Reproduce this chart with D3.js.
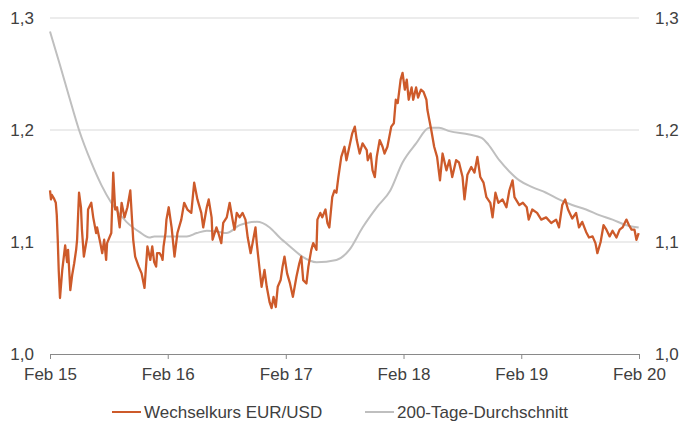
<!DOCTYPE html>
<html>
<head>
<meta charset="utf-8">
<script src="https://cdn.jsdelivr.net/npm/d3@7"></script>
<style>
  body { margin: 0; background: #fff; }
  text { font-family: "Liberation Sans", Arial, sans-serif; fill: #404040; }
</style>
</head>
<body>
<div id="chart"></div>
<script>
// EUR/USD rate
const rateDates = [
  "2015-02-01","2015-02-04","2015-02-07","2015-02-13","2015-02-19","2015-02-22","2015-02-25","2015-02-28","2015-03-04","2015-03-11","2015-03-20","2015-03-26","2015-03-29","2015-04-05","2015-04-11","2015-04-17","2015-04-23","2015-04-26","2015-05-02","2015-05-08","2015-05-11","2015-05-17","2015-05-27","2015-05-30","2015-06-09","2015-06-15","2015-06-24","2015-06-27","2015-07-07","2015-07-13","2015-07-19","2015-07-25","2015-07-28","2015-08-10","2015-08-16","2015-08-22","2015-08-28","2015-09-05","2015-09-11","2015-09-20","2015-09-29","2015-10-08","2015-10-11","2015-10-17","2015-10-23","2015-11-03","2015-11-12","2015-11-21","2015-11-30","2015-12-09","2015-12-15","2015-12-21","2015-12-27","2015-12-30",
  "2016-01-07","2016-01-13","2016-01-16","2016-01-19","2016-01-25","2016-01-28","2016-02-04","2016-02-13","2016-02-22","2016-03-02","2016-03-14","2016-03-23","2016-04-02","2016-04-14","2016-04-23","2016-05-03","2016-05-15","2016-05-21","2016-06-01","2016-06-07","2016-06-16","2016-06-19","2016-07-01","2016-07-07","2016-07-16","2016-07-22","2016-08-02","2016-08-11","2016-08-20","2016-08-26","2016-09-02","2016-09-11","2016-09-20","2016-09-29","2016-10-06","2016-10-15","2016-10-21","2016-10-30","2016-11-03","2016-11-12","2016-11-18","2016-11-27","2016-12-04","2016-12-13","2016-12-19","2016-12-25",
  "2017-01-01","2017-01-07","2017-01-16","2017-01-22","2017-01-28","2017-02-05","2017-02-14","2017-02-23","2017-03-06","2017-03-15","2017-03-21","2017-03-27","2017-04-06","2017-04-12","2017-04-21","2017-04-27","2017-05-07","2017-05-10","2017-05-19","2017-05-25","2017-06-04","2017-06-10","2017-06-16","2017-06-25","2017-07-02","2017-07-08","2017-07-14","2017-07-23","2017-08-02","2017-08-08","2017-08-17","2017-08-26","2017-09-03","2017-09-09","2017-09-18","2017-09-27","2017-10-10","2017-10-13","2017-10-22","2017-10-28","2017-11-04","2017-11-10","2017-11-19","2017-11-28","2017-12-04","2017-12-13","2017-12-25",
  "2018-01-02","2018-01-08","2018-01-14","2018-01-23","2018-01-29","2018-02-05","2018-02-11","2018-02-17","2018-02-26","2018-03-03","2018-03-12","2018-03-18","2018-03-27","2018-04-04","2018-04-13","2018-04-16","2018-04-22","2018-04-28","2018-05-07","2018-05-16","2018-05-25","2018-06-02","2018-06-14","2018-06-23","2018-07-02","2018-07-14","2018-07-23","2018-08-03","2018-08-09","2018-08-18","2018-08-30","2018-09-09","2018-09-18","2018-09-27","2018-10-07","2018-10-16","2018-10-28","2018-11-04","2018-11-13","2018-11-22","2018-12-05","2018-12-17","2018-12-26",
  "2019-01-05","2019-01-11","2019-01-26","2019-02-06","2019-02-18","2019-02-24","2019-03-07","2019-03-22","2019-04-04","2019-04-19","2019-05-05","2019-05-20","2019-05-29","2019-06-08","2019-06-17","2019-06-26","2019-07-09","2019-07-21","2019-07-30","2019-08-09","2019-08-21","2019-08-30","2019-09-10","2019-09-19","2019-09-25","2019-10-05","2019-10-14","2019-10-23","2019-11-02","2019-11-11","2019-11-23","2019-12-03","2019-12-12","2019-12-24",
  "2020-01-01","2020-01-09","2020-01-18","2020-01-24","2020-01-31"
];
const rateValues = [
  1.146,1.138,1.142,1.139,1.135,1.124,1.102,1.075,1.050,1.075,1.097,1.082,1.093,1.057,1.071,1.081,1.093,1.102,1.144,1.131,1.111,1.087,1.104,1.129,1.135,1.122,1.108,1.113,1.099,1.090,1.102,1.084,1.099,1.108,1.162,1.129,1.131,1.113,1.135,1.122,1.131,1.146,1.131,1.102,1.087,1.078,1.072,1.059,1.096,1.084,1.096,1.082,1.078,1.090,
  1.090,1.087,1.084,1.096,1.108,1.120,1.131,1.113,1.087,1.108,1.120,1.135,1.129,1.126,1.153,1.138,1.126,1.113,1.131,1.138,1.122,1.102,1.113,1.108,1.099,1.117,1.122,1.135,1.120,1.111,1.126,1.122,1.126,1.120,1.104,1.090,1.099,1.113,1.099,1.075,1.060,1.075,1.060,1.046,1.041,1.051,
  1.042,1.060,1.066,1.078,1.087,1.072,1.063,1.051,1.069,1.081,1.087,1.066,1.063,1.078,1.093,1.099,1.093,1.120,1.126,1.122,1.129,1.117,1.113,1.140,1.146,1.144,1.158,1.176,1.185,1.173,1.185,1.197,1.203,1.191,1.179,1.188,1.182,1.173,1.179,1.164,1.158,1.176,1.191,1.185,1.179,1.185,1.203,
  1.206,1.227,1.224,1.245,1.251,1.236,1.245,1.227,1.238,1.227,1.238,1.229,1.236,1.234,1.227,1.218,1.209,1.200,1.185,1.176,1.155,1.179,1.164,1.173,1.158,1.173,1.171,1.158,1.138,1.160,1.167,1.162,1.176,1.158,1.153,1.140,1.135,1.122,1.144,1.135,1.138,1.131,1.146,
  1.155,1.140,1.133,1.135,1.131,1.120,1.129,1.126,1.120,1.122,1.117,1.120,1.113,1.133,1.138,1.129,1.121,1.126,1.113,1.118,1.109,1.104,1.105,1.099,1.090,1.100,1.115,1.111,1.105,1.110,1.104,1.111,1.113,1.120,
  1.115,1.111,1.111,1.102,1.108
];

// 200-day moving average
const avgDates = [
  "2015-02-01","2015-03-03","2015-04-02","2015-05-02","2015-06-09","2015-07-10","2015-08-10","2015-09-26","2015-11-05","2015-12-06","2015-12-21",
  "2016-02-17","2016-03-31","2016-05-01","2016-06-01","2016-07-10","2016-08-01","2016-09-11","2016-10-03","2016-11-03","2016-12-13",
  "2017-01-13","2017-02-14","2017-03-24","2017-05-07","2017-07-08","2017-08-17","2017-09-27","2017-11-10","2017-12-22",
  "2018-01-29","2018-03-12","2018-04-22","2018-05-22","2018-06-23","2018-08-24","2018-10-01","2018-10-22","2018-11-25","2018-12-26",
  "2019-01-26","2019-03-07","2019-04-19","2019-05-29","2019-07-09","2019-08-21","2019-10-01","2019-11-11","2019-12-24","2020-01-31"
];
const avgValues = [
  1.288,1.259,1.229,1.200,1.171,1.151,1.135,1.118,1.109,1.104,1.105,
  1.105,1.105,1.108,1.110,1.109,1.108,1.115,1.117,1.118,1.113,
  1.104,1.096,1.087,1.082,1.084,1.093,1.113,1.131,1.146,
  1.171,1.188,1.202,1.202,1.199,1.196,1.193,1.187,1.173,1.163,
  1.155,1.149,1.144,1.138,1.133,1.129,1.124,1.120,1.115,1.113
];

const xTickDates = ["2015-02-01","2016-02-01","2017-02-01","2018-02-01","2019-02-01","2020-02-01"];
const xTickLabels = ["Feb 15","Feb 16","Feb 17","Feb 18","Feb 19","Feb 20"];
const yTicks = [1.0, 1.1, 1.2, 1.3];
const yTickLabels = ["1,0","1,1","1,2","1,3"];
const seriesNames = ["Wechselkurs EUR/USD", "200-Tage-Durchschnitt"];
const seriesColors = ["#cd5a2a", "#bfbfbf"];

const parse = d3.timeParse("%Y-%m-%d");
const rate = d3.zip(rateDates, rateValues).map(d => ({ date: parse(d[0]), value: d[1] }));
const avg = d3.zip(avgDates, avgValues).map(d => ({ date: parse(d[0]), value: d[1] }));

// Setup SVG canvas
const width = 680, height = 421;
const plotLeft = 50, plotRight = 639, plotTop = 18, plotBottom = 354;
const svg = d3.select('#chart')
    .append('svg')
    .attr('width', width)
    .attr('height', height);

const x = d3.scaleTime()
    .domain([parse(xTickDates[0]), parse(xTickDates[xTickDates.length - 1])])
    .range([plotLeft, plotRight]);
const y = d3.scaleLinear()
    .domain([1.0, 1.3])
    .range([plotBottom, plotTop]);

// Horizontal grid lines (1,0 is the axis itself)
svg.append('g')
    .selectAll('line')
    .data(yTicks.slice(1))
    .enter()
    .append('line')
    .attr('x1', plotLeft)
    .attr('x2', plotRight)
    .attr('y1', d => y(d))
    .attr('y2', d => y(d))
    .attr('stroke', '#d9d9d9')
    .attr('stroke-width', 1);

// x axis
const xAxis = svg.append('g')
    .attr('transform', `translate(0,${plotBottom})`)
    .call(d3.axisBottom(x)
        .tickValues(xTickDates.map(parse))
        .tickFormat((d, i) => xTickLabels[i])
        .tickSizeOuter(0)
        .tickSize(5)
        .tickPadding(9));
xAxis.select('.domain').attr('stroke', '#898989');
xAxis.selectAll('.tick line').attr('stroke', '#898989');
xAxis.selectAll('text')
    .style('font-size', '17px')
    .attr('fill', '#404040');

// y labels on both sides
const yLabels = svg.append('g');
yLabels.selectAll('text.left')
    .data(yTicks)
    .enter()
    .append('text')
    .attr('class', 'left')
    .attr('x', 34)
    .attr('y', d => y(d))
    .attr('dy', '0.35em')
    .style('text-anchor', 'end')
    .style('font-size', '17px')
    .text((d, i) => yTickLabels[i]);
yLabels.selectAll('text.right')
    .data(yTicks)
    .enter()
    .append('text')
    .attr('class', 'right')
    .attr('x', 655)
    .attr('y', d => y(d))
    .attr('dy', '0.35em')
    .style('text-anchor', 'start')
    .style('font-size', '17px')
    .text((d, i) => yTickLabels[i]);

// Lines
const line = d3.line()
    .x(d => x(d.date))
    .y(d => y(d.value));

svg.append('path')
    .datum(avg)
    .attr('fill', 'none')
    .attr('stroke', seriesColors[1])
    .attr('stroke-width', 2)
    .attr('d', line.curve(d3.curveMonotoneX));

svg.append('path')
    .datum(rate)
    .attr('fill', 'none')
    .attr('stroke', seriesColors[0])
    .attr('stroke-width', 2.3)
    .attr('stroke-linejoin', 'round')
    .attr('d', line.curve(d3.curveLinear));

// Legend
const legendPos = [112, 365];
const legend = svg.append('g')
    .selectAll('g')
    .data(seriesNames)
    .enter()
    .append('g')
    .attr('transform', (d, i) => `translate(${legendPos[i]},412)`);
legend.append('line')
    .attr('x1', 0)
    .attr('x2', 29)
    .attr('stroke', (d, i) => seriesColors[i])
    .attr('stroke-width', 2);
legend.append('text')
    .attr('x', 32)
    .attr('y', 6)
    .style('font-size', '17px')
    .text(d => d);
</script>
</body>
</html>
